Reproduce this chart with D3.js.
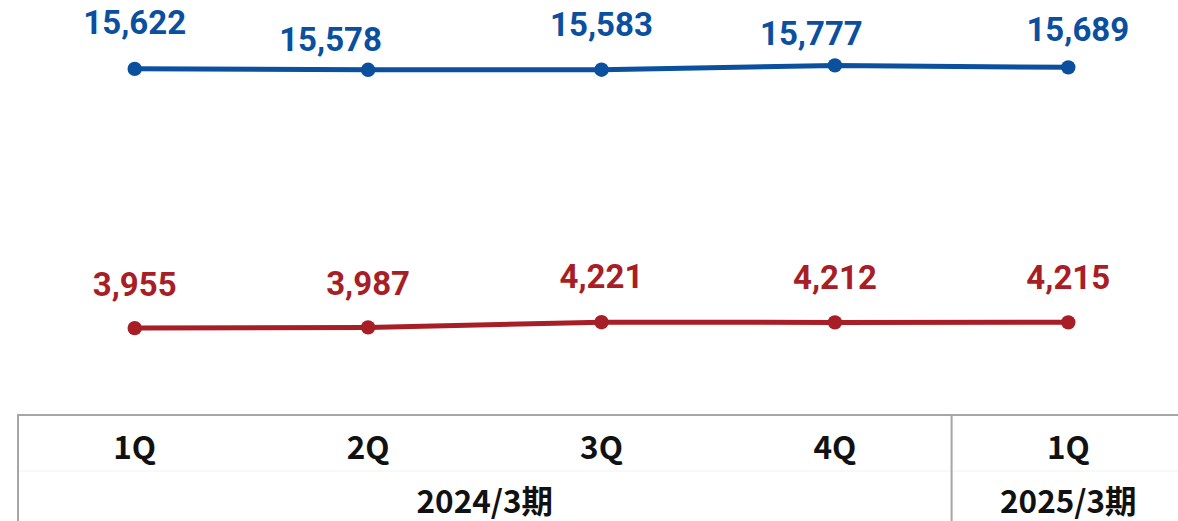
<!DOCTYPE html>
<html><head><meta charset="utf-8">
<script src="https://cdn.jsdelivr.net/npm/d3@7"></script>
<style>body{margin:0;background:#fff}svg{display:block}</style>
</head><body>
<svg id="c" width="1178" height="521"></svg>
<script>
const categories = ["1Q","2Q","3Q","4Q","1Q"];
const groups = [{label:"2024/3期", from:0, to:3},{label:"2025/3期", from:4, to:4}];
const seriesA = [15622,15578,15583,15777,15689];
const seriesB = [3955,3987,4221,4212,4215];
// label placement (layout only): px above the point / px shift sideways
const offA = [47,30.5,45,32.5,38];
const dxA = [0,-37.5,0,-23.5,9.5];
const offB = [44,44,46,45,45];
const dxB = [0,0,0,0,0];

const svg = d3.select("#c");
const font = "'Noto Sans CJK JP','Noto Sans',sans-serif";
const numFont = "Roboto,'Noto Sans',sans-serif";
const x = d3.scaleBand().domain(d3.range(categories.length)).range([18,1185]).padding(0);
const y = d3.scaleLinear().domain([0,18000]).range([416,16]);
const cx = i => x(i)+x.bandwidth()/2;
const lfs = 33;

const series = [
  {vals:seriesA, color:"#0B4F9F", off:offA, dx:dxA},
  {vals:seriesB, color:"#A81E26", off:offB, dx:dxB}
];
series.forEach(s=>{
  const line = d3.line().x((d,i)=>cx(i)).y(d=>y(d));
  svg.append("path").attr("d",line(s.vals)).attr("fill","none")
    .attr("stroke",s.color).attr("stroke-width",5);
  svg.selectAll(null).data(s.vals).enter().append("circle")
    .attr("cx",(d,i)=>cx(i)).attr("cy",d=>y(d)).attr("r",7.2).attr("fill",s.color);
  svg.selectAll(null).data(s.vals).enter().append("text")
    .attr("x",(d,i)=>cx(i)+s.dx[i]).attr("y",(d,i)=>y(d)-s.off[i]+0.355*lfs)
    .attr("text-anchor","middle")
    .attr("font-family",numFont).attr("font-weight","bold").attr("font-size",lfs)
    .attr("fill",s.color).text(d=>d3.format(",")(d));
});

// table
const g = svg.append("g");
const lc = "#a6a6a6";
const tfs = 31.5;
g.append("line").attr("x1",18).attr("x2",1178).attr("y1",415).attr("y2",415).attr("stroke",lc).attr("stroke-width",2);
g.append("line").attr("x1",18).attr("x2",1178).attr("y1",471).attr("y2",471).attr("stroke","#f2f2f2").attr("stroke-width",1);
g.append("line").attr("x1",18).attr("x2",18).attr("y1",414).attr("y2",521).attr("stroke",lc).attr("stroke-width",2);
g.append("line").attr("x1",x(4)).attr("x2",x(4)).attr("y1",414).attr("y2",521).attr("stroke",lc).attr("stroke-width",2);

g.selectAll(null).data(categories).enter().append("text")
  .attr("x",(d,i)=>cx(i)).attr("y",447+0.367*tfs).attr("text-anchor","middle")
  .attr("font-family",font).attr("font-weight","bold").attr("font-size",tfs).attr("fill","#111").text(d=>d);
g.selectAll(null).data(groups).enter().append("text")
  .attr("x",d=>(x(d.from)+x(d.to)+x.bandwidth())/2).attr("y",501+0.367*tfs).attr("text-anchor","middle")
  .attr("font-family",font).attr("font-weight","bold").attr("font-size",tfs).attr("fill","#111").text(d=>d.label);
</script>
</body></html>
